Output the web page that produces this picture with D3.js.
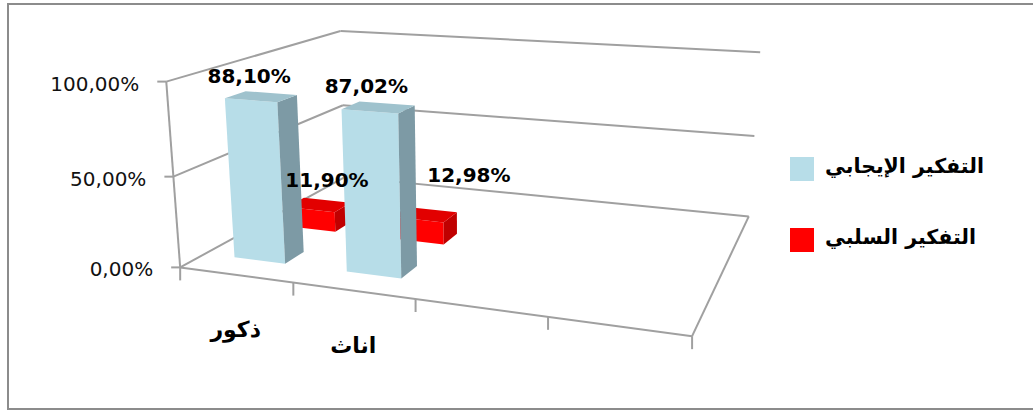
<!DOCTYPE html>
<html>
<head>
<meta charset="utf-8">
<style>
  body { margin: 0; background: #fff; }
  svg { display: block; }
  .grid { fill: none; stroke: #a0a0a0; stroke-width: 2px; }
  .tick-label { font-family: "DejaVu Sans", sans-serif; font-size: 20px; fill: #111; }
  .data-label { font-family: "DejaVu Sans", sans-serif; font-size: 20px; font-weight: bold; fill: #000; }
  .cat-label { font-family: "DejaVu Sans", sans-serif; font-size: 22px; font-weight: bold; fill: #000; }
  .legend-label { font-family: "DejaVu Sans", sans-serif; font-size: 20.5px; font-weight: bold; fill: #000; }
</style>
</head>
<body>
<svg width="1033" height="410"></svg>
<script src="https://d3js.org/d3.v7.min.js"></script>
<script>
// chart values
var categories = ["ذكور", "اناث", "", ""];
var seriesNames = ["التفكير الإيجابي", "التفكير السلبي"];
var positive = [0.8810, 0.8702];
var negative = [0.1190, 0.1298];
var yTicks = [0, 0.5, 1];

var seriesValues = [positive, negative];
var faceColors = [
  { front: "#b7dde8", top: "#9fc2cd", side: "#7d9aa5" },
  { front: "#ff0000", top: "#e20000", side: "#c00000" }
];
// excel puts the 3d labels a bit off the bar tops
var labelNudge = [[[-12, -14], [-12, -14]], [[8, -18], [44, -33]]];

// comma decimal, like the original
var locale = d3.formatLocale({ decimal: ",", thousands: ".", grouping: [3], currency: ["", ""] });
var pct = locale.format(".2%");

var svg = d3.select("svg");

// frame of the 3d box: box corner (x,y,z in 0..1) -> pixel, used to fit a perspective camera
var frame = [
  [0, 0, 0, 180, 268], [1, 0, 0, 693, 335], [1, 0, 1, 748, 218], [0, 0, 1, 346, 176],
  [0, 1, 0, 167, 82], [0, 1, 1, 340, 31], [1, 1, 1, 760, 52],
  [0, .5, 0, 173, 177], [0, .5, 1, 343, 105], [1, .5, 1, 755, 136],
  [.25, 0, 0, 293, 283], [.5, 0, 0, 415, 299], [.75, 0, 0, 548, 316]
];

// least squares DLT, image coords normalised for stability
function fitCamera(pts) {
  var cu = 500, cv = 200, s = 500;
  var rows = [], rhs = [];
  pts.forEach(function(p) {
    var X = p[0], Y = p[1], Z = p[2], u = (p[3] - cu) / s, v = (p[4] - cv) / s;
    rows.push([X, Y, Z, 1, 0, 0, 0, 0, -u * X, -u * Y, -u * Z]); rhs.push(u);
    rows.push([0, 0, 0, 0, X, Y, Z, 1, -v * X, -v * Y, -v * Z]); rhs.push(v);
  });
  var n = 11, M = [];
  for (var i = 0; i < n; i++) {
    var r = [];
    for (var j = 0; j <= n; j++) {
      var acc = 0;
      for (var k = 0; k < rows.length; k++) acc += rows[k][i] * (j < n ? rows[k][j] : rhs[k]);
      r.push(acc);
    }
    M.push(r);
  }
  for (var c = 0; c < n; c++) {
    var piv = c;
    for (var r2 = c + 1; r2 < n; r2++) if (Math.abs(M[r2][c]) > Math.abs(M[piv][c])) piv = r2;
    var tmp = M[c]; M[c] = M[piv]; M[piv] = tmp;
    for (var r3 = 0; r3 < n; r3++) {
      if (r3 === c) continue;
      var f = M[r3][c] / M[c][c];
      for (var j2 = c; j2 <= n; j2++) M[r3][j2] -= f * M[c][j2];
    }
  }
  var p = M.map(function(row, i) { return row[n] / row[i]; });
  return function(X, Y, Z) {
    var w = p[8] * X + p[9] * Y + p[10] * Z + 1;
    return [cu + s * (p[0] * X + p[1] * Y + p[2] * Z + p[3]) / w,
            cv + s * (p[4] * X + p[5] * Y + p[6] * Z + p[7]) / w];
  };
}
var project = fitCamera(frame);

// scales in box space
var x = d3.scaleBand().domain(d3.range(categories.length)).range([0, 1]).paddingInner(0.54).paddingOuter(0.27);
var z = d3.scaleBand().domain(d3.range(seriesNames.length)).range([0, 0.655]).paddingInner(0.65).paddingOuter(0.41);
var y = d3.scaleLinear().domain([0, 1]).range([0, 1]);

function pathOf(pts) {
  return "M" + pts.map(function(p) { return project(p[0], p[1], p[2]).join(","); }).join("L") + "Z";
}
function line3(a, b) {
  var p = project(a[0], a[1], a[2]), q = project(b[0], b[1], b[2]);
  return "M" + p.join(",") + "L" + q.join(",");
}

// outer border
svg.append("rect").attr("x", 8).attr("y", 4).attr("width", 1040).attr("height", 405)
  .attr("fill", "none").attr("stroke", "#8c8c8c").attr("stroke-width", 2);

var grid = svg.append("g").attr("class", "grid");
// gridlines on side wall and back wall
yTicks.forEach(function(t) {
  grid.append("path").attr("d", line3([0, y(t), 0], [0, y(t), 1]));
  grid.append("path").attr("d", line3([0, y(t), 1], [1, y(t), 1]));
  var p = project(0, y(t), 0);
  grid.append("path").attr("d", "M" + p.join(",") + "l-9,0");
});
// floor outline, value axis, category ticks
grid.append("path").attr("d", line3([0, 0, 0], [1, 0, 0]));
grid.append("path").attr("d", line3([1, 0, 0], [1, 0, 1]));
grid.append("path").attr("d", line3([0, 0, 0], [0, 1, 0]));
d3.range(categories.length + 1).forEach(function(i) {
  var p = project(i / categories.length, 0, 0);
  grid.append("path").attr("d", "M" + p.join(",") + "l0,13");
});

// value tick labels
svg.append("g").selectAll("text").data(yTicks).join("text")
  .attr("class", "tick-label")
  .attr("text-anchor", "end")
  .attr("x", function(t) { return project(0, y(t), 0)[0] - 27; })
  .attr("y", function(t) { return project(0, y(t), 0)[1] + 9; })
  .text(function(t) { return pct(t); });

// bars: back row first, left to right
var bars = [];
for (var si = seriesValues.length - 1; si >= 0; si--) {
  seriesValues[si].forEach(function(v, i) { bars.push({ s: si, i: i, v: v }); });
}
var barG = svg.append("g");
bars.forEach(function(d) {
  var x0 = x(d.i), x1 = x0 + x.bandwidth();
  var z0 = z(d.s), z1 = z0 + z.bandwidth();
  var h = y(d.v), col = faceColors[d.s];
  barG.append("path").attr("fill", col.front)
    .attr("d", pathOf([[x0, 0, z0], [x1, 0, z0], [x1, h, z0], [x0, h, z0]]));
  barG.append("path").attr("fill", col.side)
    .attr("d", pathOf([[x1, 0, z0], [x1, 0, z1], [x1, h, z1], [x1, h, z0]]));
  barG.append("path").attr("fill", col.top)
    .attr("d", pathOf([[x0, h, z0], [x1, h, z0], [x1, h, z1], [x0, h, z1]]));
});

// data labels
function labelPos(d) {
  var p = project(x(d.i) + x.bandwidth() / 2, y(d.v), z(d.s) + z.bandwidth() / 2);
  var n = labelNudge[d.s][d.i];
  return [p[0] + n[0], p[1] + n[1]];
}
svg.append("g").selectAll("text").data(bars).join("text")
  .attr("class", "data-label")
  .attr("text-anchor", "middle")
  .attr("x", function(d) { return labelPos(d)[0]; })
  .attr("y", function(d) { return labelPos(d)[1]; })
  .text(function(d) { return pct(d.v); });

// category labels
svg.append("g").selectAll("text").data(categories.filter(function(c) { return c; })).join("text")
  .attr("class", "cat-label")
  .attr("text-anchor", "middle")
  .attr("x", function(c, i) { return project(x(i) + x.bandwidth() / 2, 0, 0)[0]; })
  .attr("y", function(c, i) { return project(x(i) + x.bandwidth() / 2, 0, 0)[1] + 62; })
  .text(function(c) { return c; });

// legend
var legend = svg.append("g").attr("transform", "translate(790,157)");
seriesNames.forEach(function(name, si) {
  var g = legend.append("g").attr("transform", "translate(0," + si * 71 + ")");
  g.append("rect").attr("width", 24).attr("height", 24).attr("fill", faceColors[si].front);
  g.append("text").attr("class", "legend-label").attr("x", 35).attr("y", 16).text(name);
});
</script>
</body>
</html>
